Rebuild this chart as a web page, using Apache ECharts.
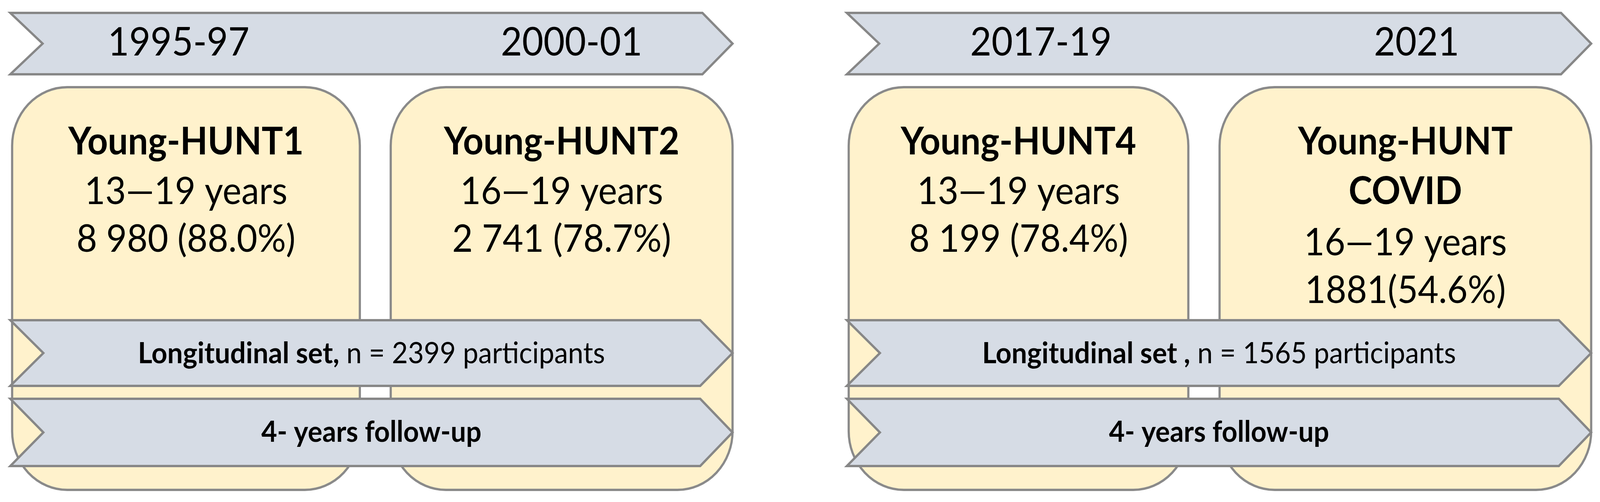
<!DOCTYPE html>
<html>
<head>
<meta charset="utf-8">
<script src="https://cdn.jsdelivr.net/npm/echarts@6/dist/echarts.min.js"></script>
<style>
html, body { margin: 0; padding: 0; background: #fff; overflow: hidden; }
#main { width: 100vw; height: 100vh; }
</style>
</head>
<body>
<div id="main"></div>
<script>
// timeline data
var periods = ['1995-97', '2000-01', '2017-19', '2021'];
var cohortNames = ['Young-HUNT1', 'Young-HUNT2', 'Young-HUNT4', 'Young-HUNT\nCOVID'];
var ageRanges = ['13\u201419 years', '16\u201419 years', '13\u201419 years', '16\u201419 years'];
var participation = ['8 980 (88.0%)', '2 741 (78.7%)', '8 199 (78.4%)', '1881(54.6%)'];
var longitudinalN = ['2399', '1565'];
var longitudinalSep = [',', ' ,'];
var followUp = ['4- years follow-up', '4- years follow-up'];

var FONT = 'Lato, "Noto Sans", sans-serif';
var BAND_FILL = '#d6dce5', BAND_STROKE = '#878787';
var BOX_FILL = '#fff2cc', BOX_STROKE = '#8a8a8a';

// layout of two groups (design space 4353 x 1284)
var groups = [
	{ x0: 28, x1: 1993, boxes: [[33, 979], [1063, 1993]], labelX: [486, 1555] },
	{ x0: 2304, x1: 4329, boxes: [[2309, 3233], [3318, 4329]], labelX: [2832, 3854] }
];

function chevron(x0, x1, y0, y1, notch, head) {
	var m = (y0 + y1) / 2;
	return {
		type : 'polygon',
		shape : { points : [[x0, y0], [x1 - head, y0], [x1, m], [x1 - head, y1], [x0, y1], [x0 + notch, m]] },
		style : { fill : BAND_FILL, stroke : BAND_STROKE, lineWidth : 6 }
	};
}

function text(x, y, t, size, weight) {
	return {
		type : 'text',
		x : x, y : y,
		style : { text : t, fill : '#000', font : (weight || 'normal') + ' ' + size + 'px ' + FONT,
			align : 'center', verticalAlign : 'middle' }
	};
}

var elements = [];
groups.forEach(function (g, gi) {
	// top timeline arrow
	elements.push(chevron(g.x0, g.x1, 33, 190, 88, 82));
	elements.push(text(g.labelX[0], 110, periods[gi * 2], 100));
	elements.push(text(g.labelX[1], 110, periods[gi * 2 + 1], 100));

	// cohort boxes
	g.boxes.forEach(function (b, bi) {
		var idx = gi * 2 + bi;
		var cx = (b[0] + b[1]) / 2;
		elements.push({
			type : 'rect',
			shape : { x : b[0], y : 223, width : b[1] - b[0], height : 1030, r : 150 },
			style : { fill : BOX_FILL, stroke : BOX_STROKE, lineWidth : 6 }
		});
		var y = 364;
		var nameLines = cohortNames[idx].split('\n');
		nameLines.forEach(function (n) {
			elements.push(text(cx, y, n, 97, 'bold'));
			y += 127;
		});
		if (nameLines.length > 1) y += 4;
		elements.push(text(cx, y, ageRanges[idx], 97));
		elements.push(text(cx, y + 122, participation[idx], 97));
	});

	// longitudinal + follow-up bands
	var cx = (g.x0 + g.x1) / 2;
	elements.push(chevron(g.x0, g.x1, 819, 987, 90, 88));
	elements.push({
		type : 'text',
		x : cx, y : 905,
		style : {
			text : '{b|Longitudinal set' + longitudinalSep[gi] + '} n = ' + longitudinalN[gi] + ' participants',
			font : 'normal 75px ' + FONT, fill : '#000', align : 'center', verticalAlign : 'middle',
			rich : { b : { font : 'bold 75px ' + FONT, fill : '#000' } }
		}
	});
	elements.push(chevron(g.x0, g.x1, 1020, 1192, 90, 88));
	elements.push(text(cx, 1106, followUp[gi], 74, 'bold'));
});

var myChart = echarts.init(document.getElementById('main'));
var sx = myChart.getWidth() / 4353, sy = myChart.getHeight() / 1284;
myChart.setOption({
	animation : false,
	graphic : { elements : [ {
		type : 'group',
		scaleX : sx,
		scaleY : sy,
		children : elements
	} ] }
});
</script>
</body>
</html>
